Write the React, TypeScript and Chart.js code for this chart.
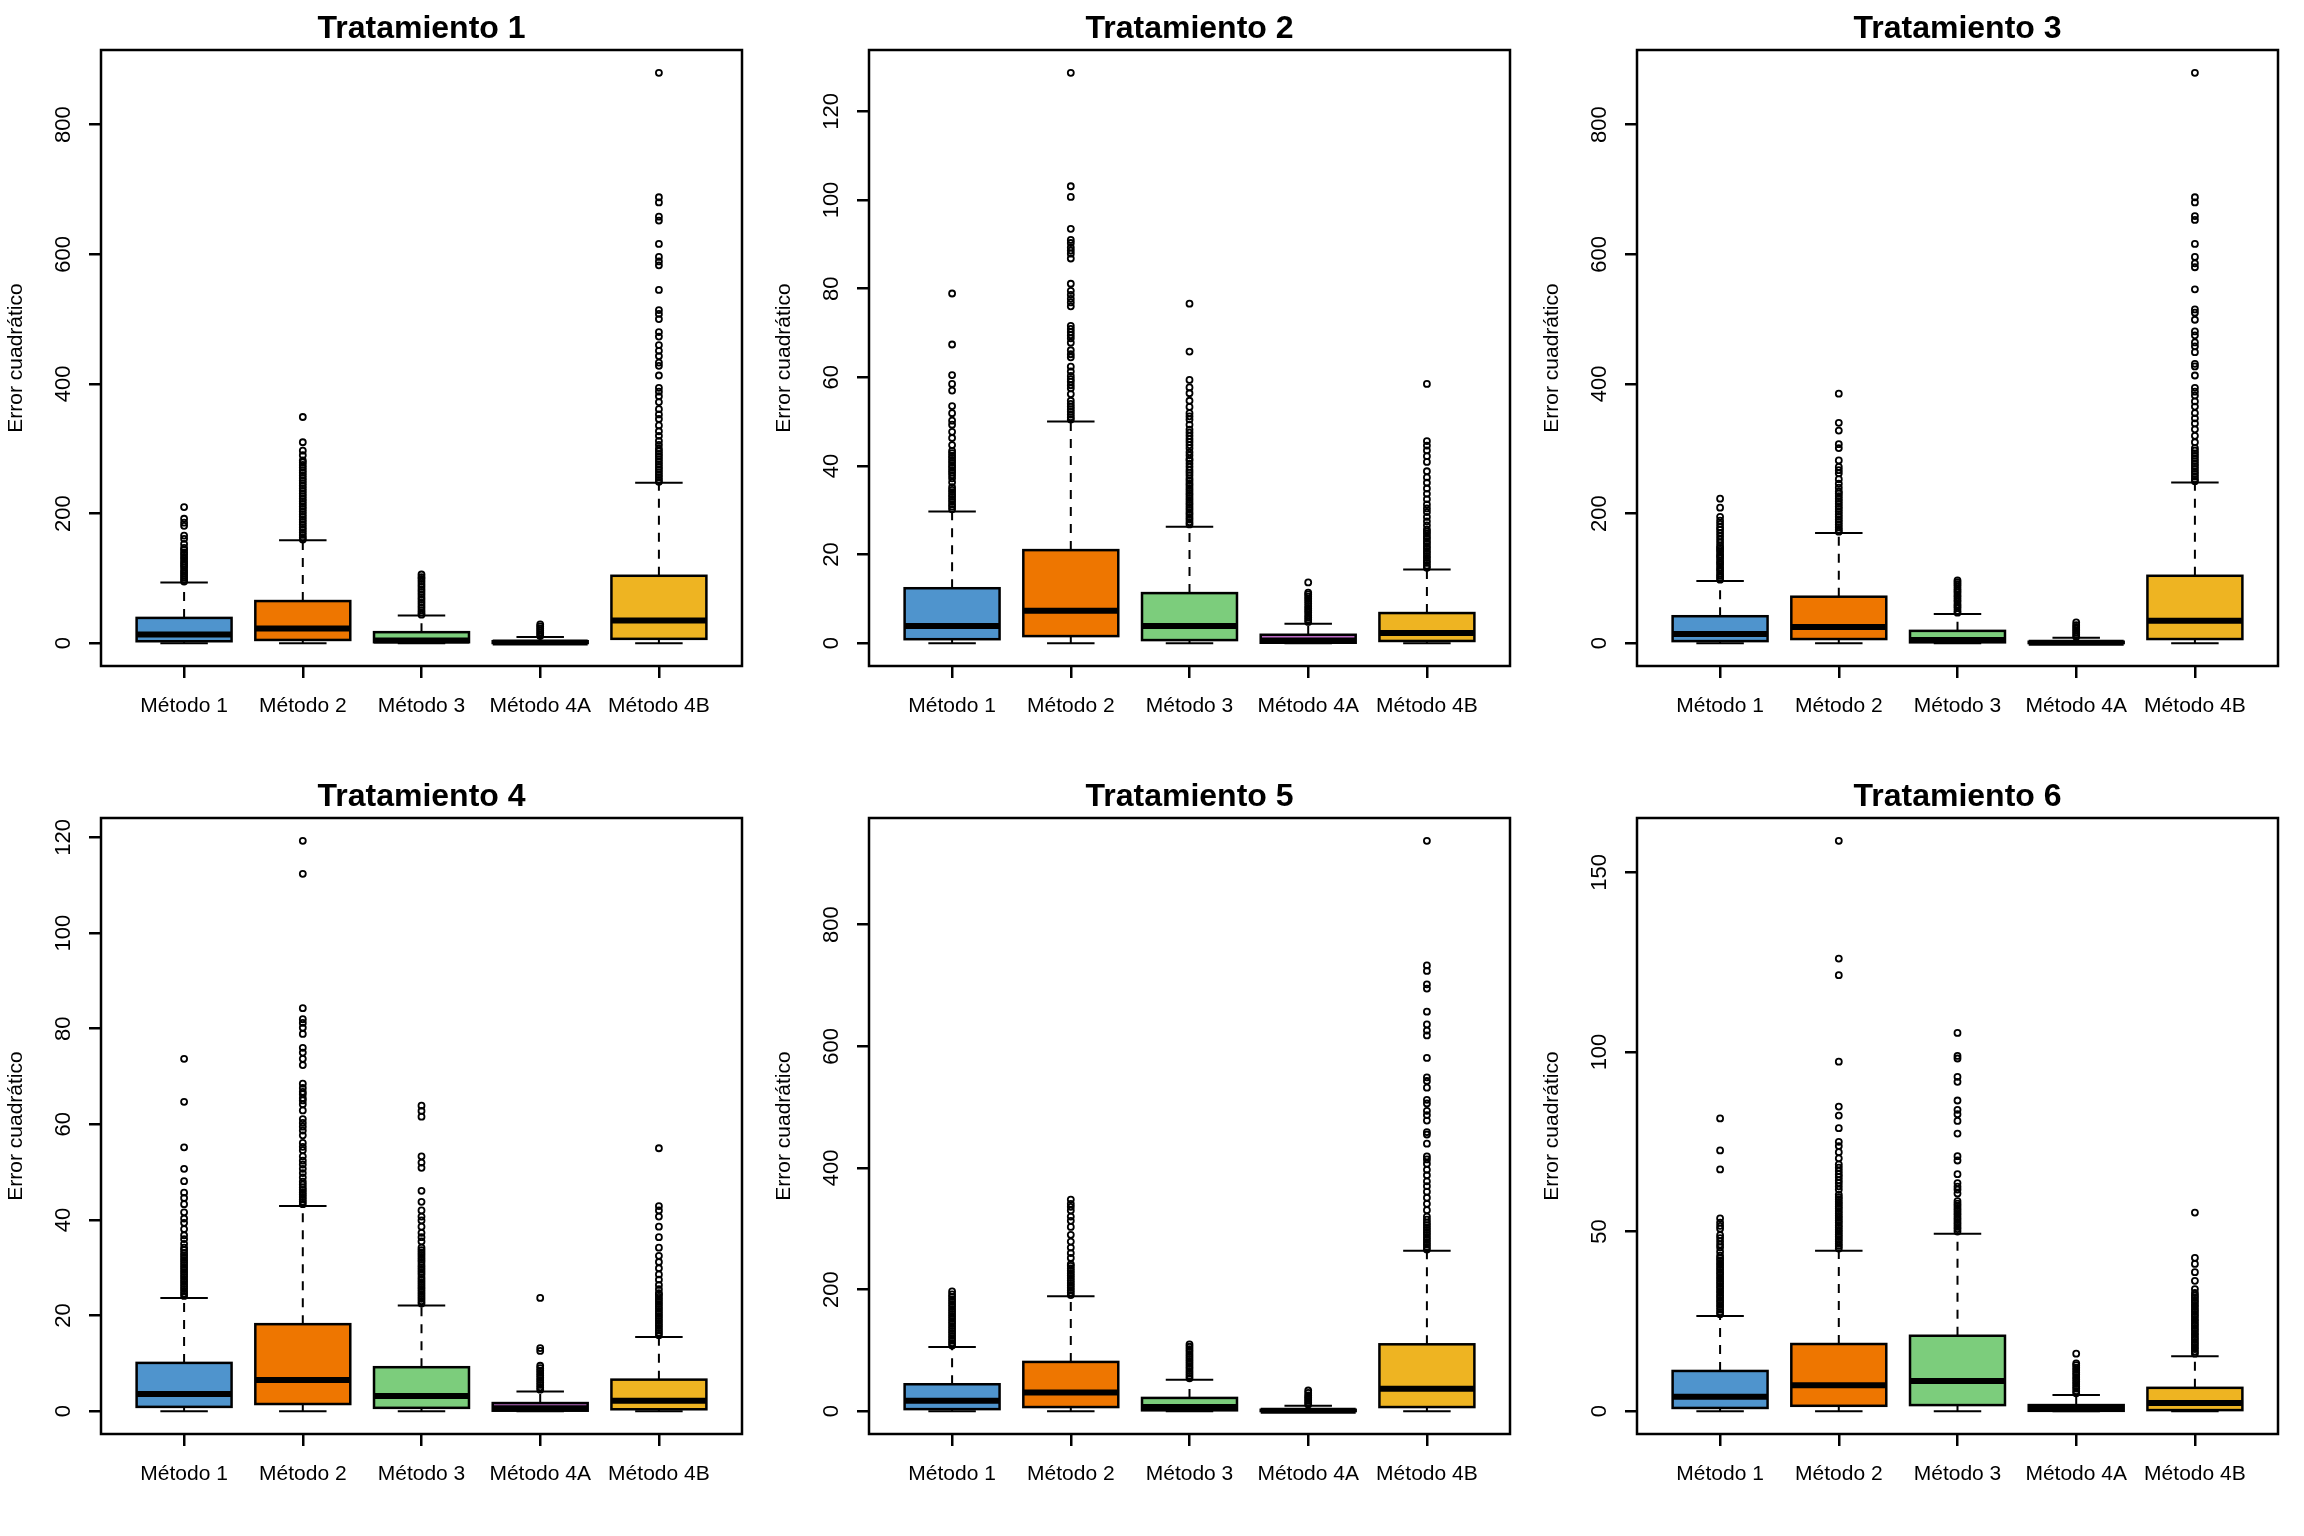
import React, { useEffect, useRef } from "react";
import { Chart, registerables } from "chart.js";

Chart.register(...registerables);

const methods = ["Método 1", "Método 2", "Método 3", "Método 4A", "Método 4B"];
const treatments = ["Tratamiento 1", "Tratamiento 2", "Tratamiento 3", "Tratamiento 4", "Tratamiento 5", "Tratamiento 6"];
const boxColors = ["#4F94CD", "#EE7600", "#7CCD7C", "#BF6BC9", "#EEB422"];
const yAxisTitle = "Error cuadrático";

// one row per treatment, one column per method
const lowerWhisker = [
  [0, 0, 0, 0, 0],
  [0, 0, 0, 0, 0],
  [0, 0, 0, 0, 0],
  [0, 0, 0, 0, 0],
  [0, 0, 0, 0, 0],
  [0, 0, 0, 0, 0],
];
const q1 = [
  [3, 5, 1.5, 0.3, 6.7],
  [0.9, 1.6, 0.7, 0.1, 0.5],
  [3.2, 6.4, 1.3, 0.2, 6.4],
  [0.9, 1.5, 0.7, 0.1, 0.4],
  [3.4, 6.8, 1.4, 0.2, 6.8],
  [0.9, 1.5, 1.7, 0.1, 0.3],
];
const median = [
  [13.5, 22.5, 4, 1, 35],
  [3.9, 7.3, 3.9, 0.6, 2.3],
  [14, 25, 5, 0.8, 34.6],
  [3.6, 6.5, 3.2, 0.6, 2.2],
  [17, 30.7, 7, 0.8, 36.8],
  [4, 7.2, 8.4, 0.8, 2.3],
];
const q3 = [
  [39, 65, 17, 3, 104],
  [12.4, 21, 11.3, 1.9, 6.8],
  [41.6, 71.7, 19, 2.2, 104],
  [10.1, 18.2, 9.2, 1.7, 6.6],
  [44.3, 81, 21.8, 2.3, 110],
  [11.2, 18.7, 21, 1.7, 6.5],
];
const upperWhisker = [
  [93.5, 158.7, 42.7, 9.7, 247.7],
  [29.7, 50, 26.3, 4.4, 16.6],
  [96, 170, 45, 8.3, 248],
  [23.7, 42.9, 22.1, 4.1, 15.5],
  [105.6, 189, 51.8, 9, 263.7],
  [26.5, 44.7, 49.4, 4.5, 15.3],
];

const outliersT1 = [
  [95, 98, 101, 104, 107, 110, 113, 117, 120, 123, 126, 130, 133, 137, 140, 144, 147, 153, 161, 166, 181, 186, 192, 210],
  [160, 163, 167, 171, 175, 179, 183, 187, 191, 195, 199, 203, 207, 211, 215, 219, 223, 227, 231, 235, 239, 243, 247, 251, 255, 259, 263, 267, 271, 275, 279, 282, 290, 297, 310, 349],
  [44, 47, 51, 55, 59, 63, 67, 71, 75, 79, 83, 87, 91, 95, 99, 102, 106],
  [11, 14, 17, 20, 23, 26, 29],
  [249, 252, 256, 260, 264, 268, 272, 276, 280, 284, 288, 292, 296, 300, 306, 312, 320, 327, 336, 346, 353, 361, 372, 381, 388, 394, 413, 428, 433, 443, 451, 460, 473, 480, 500, 508, 514, 545, 583, 589, 596, 616, 652, 658, 680, 688, 880],
];
const outliersT2 = [
  [30.2, 30.8, 31.3, 31.9, 32.4, 33, 33.5, 34.1, 34.6, 35.2, 36.3, 37.2, 37.9, 38.5, 39, 39.6, 40.1, 40.7, 41.2, 41.8, 42.3, 42.9, 43.4, 44.7, 46.3, 47.7, 49.3, 50.2, 51.9, 53.5, 57, 58.5, 60.5, 67.4, 78.9],
  [50.5, 51, 51.6, 52.2, 52.8, 53.4, 54, 54.7, 56.2, 57.5, 58.2, 59, 59.6, 60.3, 61.3, 62.4, 64.5, 65.2, 66.1, 67.8, 68.8, 69.5, 70.2, 70.9, 71.6, 76, 76.9, 77.7, 78.6, 79.5, 81.1, 86.8, 87.9, 88.6, 89.3, 90.3, 91, 93.5, 100.7, 103.1, 128.7],
  [26.8, 27.3, 27.9, 28.4, 29, 29.5, 30.1, 30.6, 31.2, 31.7, 32.3, 32.8, 33.4, 33.9, 34.5, 35, 35.6, 36.1, 36.7, 37.2, 37.9, 38.5, 39.1, 39.8, 40.5, 41.2, 41.6, 42.4, 43.1, 44, 44.7, 45.4, 46.1, 46.8, 47.5, 48.2, 49.3, 50.5, 51.2, 51.9, 53.3, 54.7, 56.4, 57.7, 59.4, 65.8, 76.6],
  [4.8, 5.3, 5.8, 6.3, 6.9, 7.4, 7.9, 8.4, 9, 9.5, 10, 10.5, 11, 11.4, 13.7],
  [17, 17.5, 18.1, 18.6, 19.2, 19.7, 20.3, 20.8, 21.4, 21.9, 22.5, 23, 23.6, 24.1, 24.7, 25.2, 25.7, 26.6, 27.5, 28.5, 29.6, 30.4, 31.3, 32.5, 33.7, 34.9, 36.2, 37.4, 38.8, 40.9, 42.2, 43.5, 44.6, 45.6, 58.5],
];
const outliersT3 = [
  [98, 101, 104, 107, 111, 114, 117, 121, 124, 127, 131, 134, 137, 141, 144, 147, 150, 155, 160, 165, 170, 175, 179, 184, 189, 195, 209, 223],
  [172, 175, 179, 183, 187, 191, 195, 199, 203, 207, 211, 215, 219, 223, 227, 231, 234, 240, 246, 253, 262, 267, 272, 282, 301, 307, 328, 340, 385],
  [47, 50, 54, 57, 60, 64, 67, 71, 74, 78, 81, 84, 88, 91, 94, 97],
  [10, 13, 16, 19, 22, 25, 28, 32],
  [250, 253, 257, 261, 265, 269, 273, 277, 281, 285, 289, 293, 297, 301, 310, 320, 330, 339, 347, 355, 365, 373, 382, 388, 394, 413, 427, 431, 449, 458, 464, 475, 481, 499, 510, 515, 546, 580, 586, 596, 616, 653, 659, 680, 688, 880],
];
const outliersT4 = [
  [24.1, 24.6, 25.1, 25.6, 26.1, 26.6, 27.1, 27.6, 28.1, 28.6, 29.1, 29.6, 30.1, 30.6, 31.1, 31.6, 32.1, 32.6, 33.1, 33.7, 34.2, 35, 36, 36.8, 38.1, 39.4, 40.3, 41.6, 43.3, 44.6, 45.7, 48.1, 50.7, 55.2, 64.7, 73.7],
  [43.3, 43.8, 44.3, 44.8, 45.3, 45.8, 46.3, 46.8, 47.4, 48, 48.9, 49.8, 50.7, 51.6, 52.4, 53.3, 54.6, 55.3, 56.1, 57.7, 58.7, 59.5, 60.3, 61.1, 62.9, 64.2, 65, 65.5, 66.3, 66.8, 67.6, 68.5, 72.4, 73.7, 75, 76, 78.9, 80.2, 81.2, 82, 84.3, 112.4, 119.3],
  [22.5, 23, 23.5, 24, 24.5, 25, 25.5, 26, 26.5, 27, 27.5, 28, 28.6, 29.1, 29.6, 30.1, 30.6, 31.2, 31.7, 32.2, 32.7, 33.2, 33.7, 34.2, 35.5, 36.4, 37.3, 38.6, 39.9, 40.7, 42, 43.8, 46.1, 50.9, 52, 53.3, 61.6, 62.8, 63.9],
  [4.5, 5, 5.5, 6, 6.5, 7, 7.5, 8, 8.5, 9, 9.5, 12.6, 13.2, 23.7],
  [15.9, 16.4, 16.9, 17.4, 17.9, 18.4, 18.9, 19.4, 19.9, 20.4, 20.9, 21.4, 21.9, 22.4, 22.9, 23.4, 23.9, 24.4, 24.7, 25.5, 26.4, 27.5, 28.6, 29.9, 31.2, 32.5, 34.2, 36.4, 38.6, 40.7, 42, 42.9, 55],
];
const outliersT5 = [
  [108, 112, 116, 120, 124, 128, 132, 136, 140, 144, 148, 152, 156, 160, 164, 168, 172, 176, 180, 184, 188, 192, 197],
  [191, 195, 199, 203, 207, 211, 215, 219, 223, 227, 231, 235, 239, 242, 252, 260, 269, 279, 290, 303, 313, 320, 330, 336, 341, 348],
  [54, 58, 62, 66, 70, 74, 78, 82, 86, 90, 94, 98, 102, 106, 110],
  [11, 14, 17, 20, 23, 26, 30, 34],
  [266, 270, 274, 278, 282, 286, 290, 294, 298, 302, 306, 310, 315, 320, 330.5, 341, 351, 361, 370, 378, 388, 397, 407, 414, 419, 440, 455, 459, 478, 487, 494, 506, 512, 532, 543, 549, 581, 618, 626, 636, 657, 695, 702, 724, 733, 938],
];
const outliersT6 = [
  [27, 27.6, 28.3, 29, 29.6, 30.3, 30.9, 31.6, 32.2, 32.9, 33.5, 34.2, 34.8, 35.5, 36.1, 36.8, 37.4, 38.1, 38.7, 39.4, 40, 40.7, 41.3, 42, 42.6, 43.3, 44.4, 45.6, 46.4, 47.3, 48.2, 49, 50.8, 51.6, 52.5, 53.7, 67.3, 72.6, 81.5],
  [45.3, 46, 46.6, 47.3, 47.9, 48.6, 49.2, 49.9, 50.5, 51.2, 51.8, 52.5, 53.1, 53.8, 54.4, 55.1, 55.7, 56.4, 57, 57.7, 58.3, 59, 59.6, 60.3, 61.7, 62.6, 63.5, 64.3, 65.2, 66, 66.9, 67.8, 68.7, 70.4, 72.1, 73.8, 75, 78.8, 82.3, 84.8, 97.3, 121.4, 126, 158.8],
  [50, 50.7, 51.3, 52, 52.6, 53.3, 53.9, 54.6, 55.2, 55.9, 56.5, 57.2, 57.8, 58.5, 60.6, 61.7, 62.5, 63.5, 66, 69.8, 71, 77.3, 80.8, 82.7, 83.9, 86.5, 91.7, 93.1, 98.2, 98.9, 105.3],
  [5, 5.6, 6.3, 6.9, 7.6, 8.2, 8.9, 9.5, 10.2, 10.8, 11.5, 12.1, 12.8, 13.3, 16],
  [16, 16.6, 17.3, 17.9, 18.6, 19.2, 19.9, 20.5, 21.2, 21.8, 22.5, 23.1, 23.8, 24.4, 25.1, 25.7, 26.4, 27, 27.7, 28.3, 29, 29.6, 30.3, 30.9, 31.6, 32.2, 32.9, 34, 36.3, 38.7, 41, 42.7, 55.3],
];
const outliers = [outliersT1, outliersT2, outliersT3, outliersT4, outliersT5, outliersT6];

const yTicks = [
  [0, 200, 400, 600, 800],
  [0, 20, 40, 60, 80, 100, 120],
  [0, 200, 400, 600, 800],
  [0, 20, 40, 60, 80, 100, 120],
  [0, 200, 400, 600, 800],
  [0, 50, 100, 150],
];

const PANEL = 768;
const FONT = "'Liberation Sans', Arial, sans-serif";

function makePlugin(t: number) {
  return {
    id: "rBoxplot" + t,
    afterDatasetDraw(chart: any, args: any) {
      if (args.index !== 1) return;
      const ctx = chart.ctx;
      const y = chart.scales.y;
      const meta = args.meta;
      ctx.save();
      ctx.strokeStyle = "#000";
      meta.data.forEach((el: any, m: number) => {
        const cx = el.x;
        const half = el.width / 2;
        const staple = half / 2;
        const pQ1 = y.getPixelForValue(q1[t][m]);
        const pQ3 = y.getPixelForValue(q3[t][m]);
        const pLo = y.getPixelForValue(lowerWhisker[t][m]);
        const pHi = y.getPixelForValue(upperWhisker[t][m]);
        const pMed = y.getPixelForValue(median[t][m]);
        ctx.lineWidth = 2;
        ctx.setLineDash([9, 8]);
        ctx.beginPath();
        ctx.moveTo(cx, pQ3);
        ctx.lineTo(cx, pHi);
        ctx.moveTo(cx, pQ1);
        ctx.lineTo(cx, pLo);
        ctx.stroke();
        ctx.setLineDash([]);
        ctx.beginPath();
        ctx.moveTo(cx - staple, pHi);
        ctx.lineTo(cx + staple, pHi);
        ctx.moveTo(cx - staple, pLo);
        ctx.lineTo(cx + staple, pLo);
        ctx.stroke();
        ctx.lineWidth = 2.5;
        ctx.strokeRect(cx - half, pQ3, half * 2, pQ1 - pQ3);
        ctx.lineWidth = 6;
        ctx.lineCap = "butt";
        ctx.beginPath();
        ctx.moveTo(cx - half, pMed);
        ctx.lineTo(cx + half, pMed);
        ctx.stroke();
      });
      ctx.restore();
    },
    afterDraw(chart: any) {
      const ctx = chart.ctx;
      const area = chart.chartArea;
      const xs = chart.scales.x;
      const ys = chart.scales.y;
      ctx.save();
      ctx.strokeStyle = "#000";
      ctx.lineWidth = 2.5;
      ctx.strokeRect(area.left, area.top, area.right - area.left, area.bottom - area.top);
      ctx.fillStyle = "#000";
      ctx.font = "bold 32px " + FONT;
      ctx.textAlign = "center";
      ctx.textBaseline = "alphabetic";
      ctx.fillText(treatments[t], (area.left + area.right) / 2, 38);
      ctx.font = "21px " + FONT;
      ctx.textBaseline = "middle";
      xs.ticks.forEach((tk: any, i: number) => {
        ctx.fillText(methods[i], xs.getPixelForValue(tk.value), 706);
      });
      ctx.font = "22px " + FONT;
      ys.ticks.forEach((tk: any) => {
        ctx.save();
        ctx.translate(64, ys.getPixelForValue(tk.value));
        ctx.rotate(-Math.PI / 2);
        ctx.textAlign = "center";
        ctx.textBaseline = "middle";
        ctx.fillText(String(tk.value), 0, 0);
        ctx.restore();
      });
      ctx.font = "21px " + FONT;
      ctx.save();
      ctx.translate(16, (area.top + area.bottom) / 2);
      ctx.rotate(-Math.PI / 2);
      ctx.textAlign = "center";
      ctx.textBaseline = "middle";
      ctx.fillText(yAxisTitle, 0, 0);
      ctx.restore();
      ctx.restore();
    },
  };
}

function buildConfig(t: number): any {
  const points: { x: number; y: number }[] = [];
  outliers[t].forEach((list, m) => list.forEach((v) => points.push({ x: m + 1, y: v })));
  const allVals = [...upperWhisker[t], ...points.map((p) => p.y)];
  const lo = Math.min(...lowerWhisker[t]);
  const hi = Math.max(...allVals);
  const pad = (hi - lo) * 0.04;
  const gridOpts = {
    display: true,
    drawOnChartArea: false,
    drawTicks: true,
    tickLength: 12,
    color: "#000",
    lineWidth: 2.5,
    offset: false,
  };
  return {
    type: "bar",
    data: {
      datasets: [
        {
          type: "scatter",
          data: points,
          order: 1,
          pointRadius: 3,
          pointHoverRadius: 3,
          pointBorderWidth: 1.8,
          pointBorderColor: "#000",
          pointBackgroundColor: "rgba(255,255,255,0)",
        },
        {
          type: "bar",
          data: methods.map((_, m) => ({ x: m + 1, y: [q1[t][m], q3[t][m]] })),
          backgroundColor: boxColors,
          borderColor: "#000",
          borderWidth: 0,
          borderSkipped: false,
          barPercentage: 0.8,
          categoryPercentage: 1,
          order: 2,
        },
      ],
    },
    options: {
      animation: false,
      responsive: false,
      devicePixelRatio: 1,
      events: [],
      layout: { padding: { top: 50, right: 26, left: 0, bottom: 0 } },
      plugins: { legend: { display: false }, tooltip: { enabled: false }, title: { display: false } },
      scales: {
        x: {
          type: "linear",
          offset: false,
          min: 0.3,
          max: 5.7,
          afterBuildTicks: (s: any) => {
            s.ticks = methods.map((_, i) => ({ value: i + 1 }));
          },
          afterFit: (s: any) => {
            s.height = 102;
          },
          ticks: { display: false },
          grid: gridOpts,
          border: { display: false },
        },
        y: {
          type: "linear",
          min: lo - pad,
          max: hi + pad,
          afterBuildTicks: (s: any) => {
            s.ticks = yTicks[t].map((v) => ({ value: v }));
          },
          afterFit: (s: any) => {
            s.width = 101;
          },
          ticks: { display: false },
          grid: gridOpts,
          border: { display: false },
        },
      },
    },
    plugins: [makePlugin(t)],
  };
}

function Panel({ t }: { t: number }) {
  const ref = useRef<HTMLCanvasElement | null>(null);
  useEffect(() => {
    if (!ref.current) return;
    const chart = new Chart(ref.current, buildConfig(t));
    return () => chart.destroy();
  }, [t]);
  const col = t % 3;
  const row = Math.floor(t / 3);
  return (
    <canvas
      ref={ref}
      width={PANEL}
      height={PANEL}
      style={{ position: "absolute", left: col * PANEL, top: row * PANEL, width: PANEL, height: PANEL }}
    />
  );
}

export default function App() {
  return (
    <div style={{ position: "absolute", left: 0, top: 0, width: 2304, height: 1536, background: "#fff", overflow: "hidden" }}>
      {treatments.map((_, t) => (
        <Panel key={t} t={t} />
      ))}
    </div>
  );
}
